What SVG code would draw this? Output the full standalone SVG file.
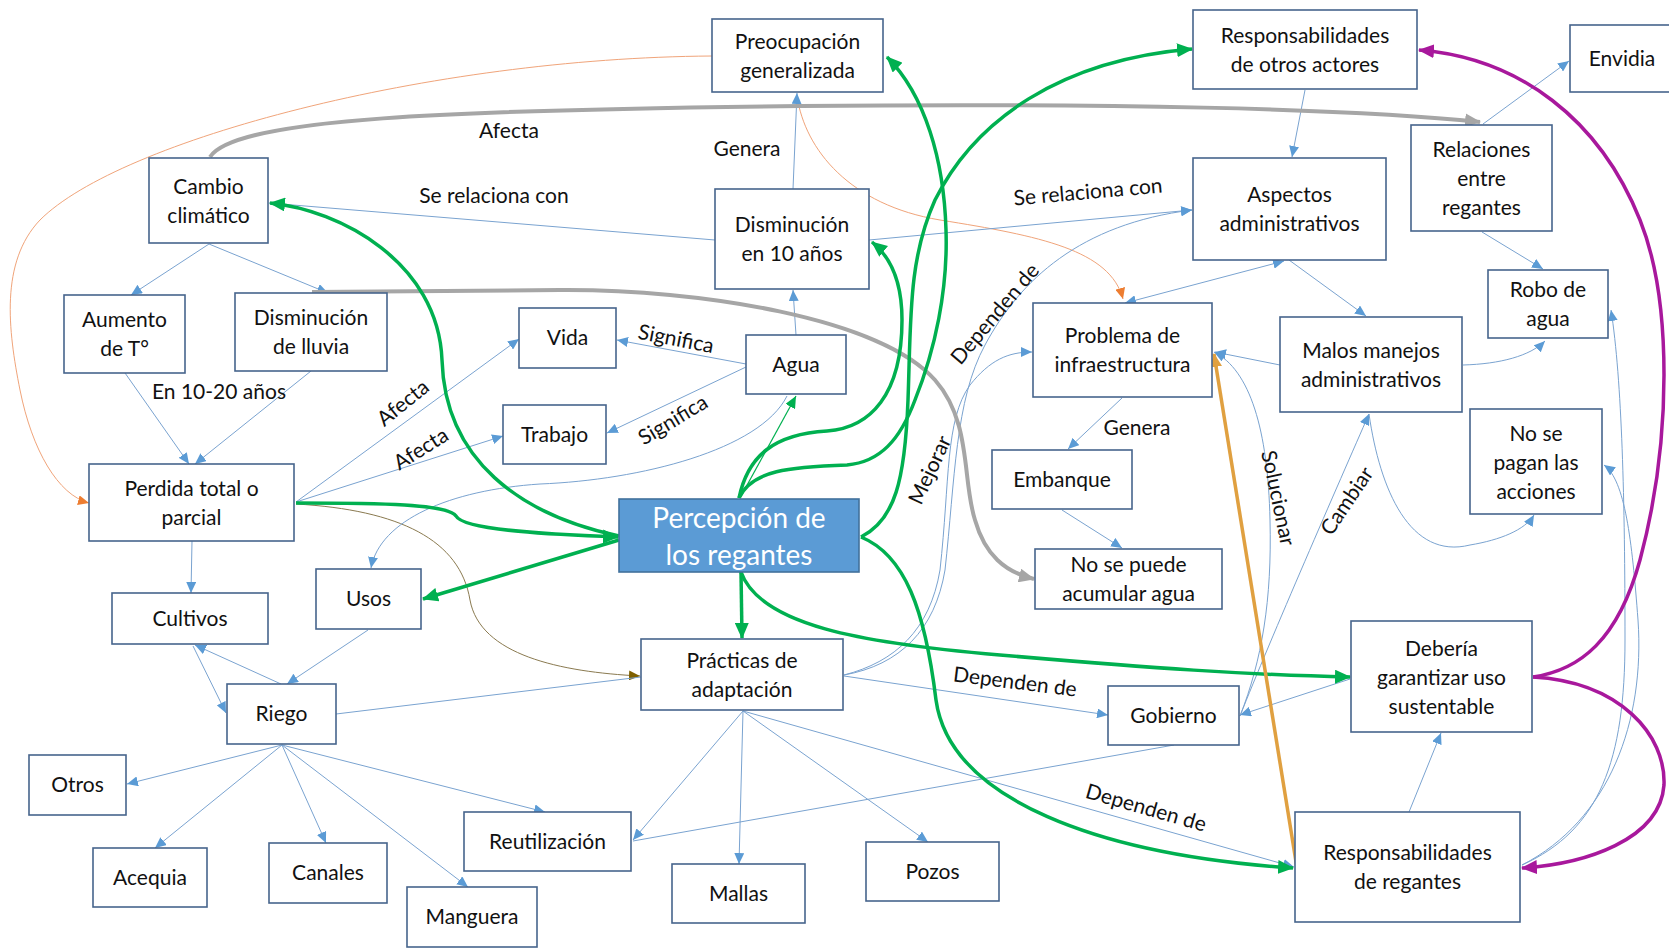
<svg xmlns="http://www.w3.org/2000/svg" width="1669" height="948" viewBox="0 0 1669 948">
  <style>
    .box { fill: #ffffff; stroke: #46648c; stroke-width: 1.6; }
    .main { fill: #5b9bd5; stroke: #41719c; stroke-width: 1.6; }
    .t { font-family: Lato, "Open Sans", sans-serif; font-size: 21px; fill: #111111; text-anchor: middle; }
    .tw { font-family: Lato, "Open Sans", sans-serif; font-size: 28px; fill: #ffffff; text-anchor: middle; }
    .lbl { font-family: Lato, "Open Sans", sans-serif; font-size: 21px; fill: #111111; text-anchor: middle; }
    .thin { fill: none; stroke: #7aa3d0; stroke-width: 1; }
    .thinA { fill: none; stroke: #7aa3d0; stroke-width: 1; marker-end: url(#aBlue); }
    .green { fill: none; stroke: #00b050; stroke-width: 3.5; marker-end: url(#aGreen); }
    .grey { fill: none; stroke: #a6a6a6; stroke-width: 4; marker-end: url(#aGrey); }
    .mag { fill: none; stroke: #a8189c; stroke-width: 3.5; marker-end: url(#aMag); }
  </style>
  <defs>
    <marker id="aBlue" markerUnits="userSpaceOnUse" markerWidth="11" markerHeight="10" refX="11" refY="5" orient="auto-start-reverse">
      <path d="M0,0 L11,5 L0,10 z" fill="#5b9bd5"/>
    </marker>
    <marker id="aGreen" markerUnits="userSpaceOnUse" markerWidth="16" markerHeight="14" refX="15" refY="7" orient="auto">
      <path d="M0,0 L16,7 L0,14 z" fill="#00b050"/>
    </marker>
    <marker id="aGreenThin" markerUnits="userSpaceOnUse" markerWidth="12" markerHeight="11" refX="12" refY="5.5" orient="auto">
      <path d="M0,0 L12,5.5 L0,11 z" fill="#00b050"/>
    </marker>
    <marker id="aGrey" markerUnits="userSpaceOnUse" markerWidth="16" markerHeight="14" refX="15" refY="7" orient="auto">
      <path d="M0,0 L16,7 L0,14 z" fill="#a6a6a6"/>
    </marker>
    <marker id="aMag" markerUnits="userSpaceOnUse" markerWidth="16" markerHeight="14" refX="15" refY="7" orient="auto">
      <path d="M0,0 L16,7 L0,14 z" fill="#a8189c"/>
    </marker>
    <marker id="aTan" markerUnits="userSpaceOnUse" markerWidth="14" markerHeight="12" refX="13" refY="6" orient="auto">
      <path d="M0,0 L14,6 L0,12 z" fill="#e0a040"/>
    </marker>
    <marker id="aOrange" markerUnits="userSpaceOnUse" markerWidth="11" markerHeight="10" refX="11" refY="5" orient="auto">
      <path d="M0,0 L11,5 L0,10 z" fill="#ed7d31"/>
    </marker>
    <marker id="aOlive" markerUnits="userSpaceOnUse" markerWidth="11" markerHeight="10" refX="11" refY="5" orient="auto">
      <path d="M0,0 L11,5 L0,10 z" fill="#7f6000"/>
    </marker>
  </defs>

  <rect width="1669" height="948" fill="#ffffff"/>

  <!-- connectors -->
  <g id="connectors">
    <!-- thin orange curves from Preocupación -->
    <path d="M712,56 C430,58 120,140 40,220 C0,262 8,330 20,390 C32,450 58,495 89,503" fill="none" stroke="#f0a47a" stroke-width="1" marker-end="url(#aOrange)"/>
    <path d="M797,96 C805,150 850,205 940,220 C1040,236 1110,250 1123,299" fill="none" stroke="#f0a47a" stroke-width="1" marker-end="url(#aOrange)"/>

    <!-- thin olive curve Perdida -> Prácticas -->
    <path d="M296,504 C400,510 460,540 470,600 C480,655 560,672 640,676" fill="none" stroke="#8a7a50" stroke-width="1" marker-end="url(#aOlive)"/>

    <!-- thin blue connectors -->
    <path class="thinA" d="M209,244 L131,295"/>
    <path class="thinA" d="M209,244 L328,293"/>
    <path class="thin" d="M269,203 L715,240"/>
    <path class="thinA" d="M793,189 L797,93"/>
    <path class="thinA" d="M869,240 L1192,210"/>
    <path class="thinA" d="M796,335 L793,290"/>
    <path class="thinA" d="M746,364 L617,340"/>
    <path class="thinA" d="M746,367 L607,433"/>
    <path class="thinA" d="M787,396 C760,450 640,480 540,484 C450,490 380,520 371,568"/>
    <path class="thinA" d="M125,373 L189,464"/>
    <path class="thinA" d="M311,371 L195,464"/>
    <path class="thinA" d="M296,502 L519,339"/>
    <path class="thinA" d="M296,502 L503,436"/>
    <path class="thinA" d="M192,541 L191,593"/>
    <path class="thinA" d="M368,630 L287,684"/>
    <path class="thinA" d="M281,684 L195,645"/>
    <path class="thinA" d="M193,646 L226,713"/>
    <path class="thin" d="M336,714 L641,677"/>
    <path class="thinA" d="M282,745 L127,784"/>
    <path class="thinA" d="M282,745 L155,848"/>
    <path class="thinA" d="M282,745 L326,843"/>
    <path class="thinA" d="M282,745 L468,887"/>
    <path class="thinA" d="M282,745 L545,812"/>
    <path class="thinA" d="M743,711 L633,840"/>
    <path class="thinA" d="M743,711 L739,864"/>
    <path class="thinA" d="M743,711 L928,842"/>
    <path class="thinA" d="M743,711 L1294,867"/>
    <path class="thinA" d="M844,676 L1108,715"/>
    <path class="thin" d="M1174,745 L633,841"/>
    <path class="thinA" d="M1350,679 L1240,715"/>
    <path class="thinA" d="M1409,812 L1441,733"/>
    <!-- Problema de infraestructura -> Embanque -> No se puede acumular agua -->
    <path class="thinA" d="M1122,398 L1068,449"/>
    <path class="thinA" d="M1062,510 L1122,548"/>
    <!-- Dependen de / Mejorar curves from Prácticas -->
    <path class="thinA" d="M844,675 C900,665 935,630 945,570 C955,480 955,400 985,345 C1020,280 1080,224 1192,210"/>
    <path class="thinA" d="M844,675 C895,662 930,630 940,570 C950,480 945,420 970,385 C990,360 1008,352 1032,352"/>
    <!-- Solucionar / Cambiar from Gobierno -->
    <path class="thinA" d="M1240,716 C1262,660 1272,600 1270,520 C1268,430 1250,370 1214,352"/>
    <path class="thinA" d="M1240,716 C1270,640 1340,480 1369,414"/>
    <path class="thinA" d="M1280,365 L1215,352"/>
    <path class="thinA" d="M1289,260 L1366,316"/>
    <path fill="none" stroke="#7aa3d0" stroke-width="1" marker-start="url(#aBlue)" marker-end="url(#aBlue)" d="M1284,261 L1125,303"/>
    <path class="thinA" d="M1305,90 L1292,157"/>
    <path class="thinA" d="M1483,124 L1569,61"/>
    <path class="thinA" d="M1482,232 L1543,269"/>
    <path class="thinA" d="M1463,365 C1500,364 1530,356 1545,341"/>
    <path class="thinA" d="M1369,414 C1380,490 1410,560 1470,545 C1500,540 1525,530 1534,515"/>
    <path class="thinA" d="M1522,865 C1600,830 1625,760 1625,640 C1625,500 1622,380 1611,310"/>
    <path class="thinA" d="M1522,865 C1610,820 1645,720 1638,620 C1632,540 1625,480 1604,465"/>

    <!-- thin green Percepción -> Agua -->
    <path d="M740,498 L796,396" fill="none" stroke="#00b050" stroke-width="1.2" marker-end="url(#aGreenThin)"/>

    <!-- thick grey -->
    <path class="grey" d="M210,157 C235,118 450,110 800,106 C1100,103 1350,108 1480,122"/>
    <path class="grey" d="M312,292 L560,290 C700,289 880,318 935,380 C972,422 962,480 975,520 C985,555 1005,572 1034,579"/>

    <!-- thick green from Percepción -->
    <path class="green" d="M619,536 C520,515 445,460 442,360 C438,262 340,210 270,203"/>
    <path class="green" d="M296,503 C380,503 448,504 456,516 C464,531 560,535 618,537"/>
    <path class="green" d="M619,540 L423,599"/>
    <path class="green" d="M741,572 L742,638"/>
    <path class="green" d="M739,498 C748,455 775,434 827,431 C870,428 902,395 902,320 C902,285 892,258 872,242"/>
    <path class="green" d="M739,498 C752,470 790,467 847,465 C880,462 900,440 915,400 C935,350 948,290 946,230 C944,160 925,95 887,57"/>
    <path class="green" d="M861,537 C895,520 905,480 908,400 C911,320 908,260 935,200 C975,120 1060,60 1192,49"/>
    <path class="green" d="M861,537 C905,555 925,610 936,700 C950,800 1100,855 1293,868"/>
    <path class="green" d="M741,572 C760,625 860,643 1000,655 C1150,668 1250,675 1350,677"/>

    <!-- thick magenta from Debería -->
    <path class="mag" d="M1533,677 C1580,670 1618,640 1640,560 C1672,440 1672,300 1640,220 C1600,120 1520,58 1419,50"/>
    <path class="mag" d="M1533,677 C1620,682 1666,735 1664,785 C1660,840 1585,864 1522,868"/>

    <!-- thick tan Responsabilidades de regantes -> Problema de infraestructura -->
    <path d="M1297,868 L1214,354" fill="none" stroke="#e0a040" stroke-width="3.5" marker-end="url(#aTan)"/>
  </g>

  <!-- connector labels -->
  <g id="labels">
    <text class="lbl" x="509" y="138">Afecta</text>
    <text class="lbl" x="494" y="203">Se relaciona con</text>
    <text class="lbl" x="747" y="156">Genera</text>
    <text class="lbl" transform="translate(1088,192) rotate(-5)" y="7">Se relaciona con</text>
    <text class="lbl" transform="translate(995,314) rotate(-50)" y="7">Dependen de</text>
    <text class="lbl" transform="translate(930,470) rotate(-65)" y="7">Mejorar</text>
    <text class="lbl" x="1137" y="435">Genera</text>
    <text class="lbl" transform="translate(1278,498) rotate(78)" y="7">Solucionar</text>
    <text class="lbl" transform="translate(1347,501) rotate(-56)" y="7">Cambiar</text>
    <text class="lbl" x="219" y="399">En 10-20 años</text>
    <text class="lbl" transform="translate(403,403) rotate(-39)" y="7">Afecta</text>
    <text class="lbl" transform="translate(421,449) rotate(-32)" y="7">Afecta</text>
    <text class="lbl" transform="translate(676,339) rotate(11)" y="7">Significa</text>
    <text class="lbl" transform="translate(673,420) rotate(-31)" y="7">Significa</text>
    <text class="lbl" transform="translate(1015,682) rotate(7)" y="7">Dependen de</text>
    <text class="lbl" transform="translate(1146,808) rotate(16)" y="7">Dependen de</text>
  </g>

  <!-- nodes -->
  <g id="n-preocupacion"><rect class="box" x="712" y="19" width="171" height="73"/><text class="t" x="797.5" y="48.5">Preocupación</text><text class="t" x="797.5" y="77.5">generalizada</text></g>
  <g id="n-resp-otros"><rect class="box" x="1193" y="10" width="224" height="79"/><text class="t" x="1305" y="42.5">Responsabilidades</text><text class="t" x="1305" y="71.5">de otros actores</text></g>
  <g id="n-envidia"><rect class="box" x="1570" y="25" width="120" height="67"/><text class="t" x="1622" y="65.5">Envidia</text></g>
  <g id="n-relaciones"><rect class="box" x="1411" y="125" width="141" height="106"/><text class="t" x="1481.5" y="157">Relaciones</text><text class="t" x="1481.5" y="186">entre</text><text class="t" x="1481.5" y="215">regantes</text></g>
  <g id="n-cambio"><rect class="box" x="149" y="158" width="119" height="85"/><text class="t" x="208.5" y="193.5">Cambio</text><text class="t" x="208.5" y="222.5">climático</text></g>
  <g id="n-dism10"><rect class="box" x="715" y="189" width="154" height="100"/><text class="t" x="792" y="232">Disminución</text><text class="t" x="792" y="261">en 10 años</text></g>
  <g id="n-aspectos"><rect class="box" x="1193" y="158" width="193" height="102"/><text class="t" x="1289.5" y="202">Aspectos</text><text class="t" x="1289.5" y="231">administrativos</text></g>
  <g id="n-aumento"><rect class="box" x="64" y="295" width="121" height="78"/><text class="t" x="124.5" y="327">Aumento</text><text class="t" x="124.5" y="356">de T°</text></g>
  <g id="n-dismlluvia"><rect class="box" x="235" y="293" width="152" height="78"/><text class="t" x="311" y="325">Disminución</text><text class="t" x="311" y="354">de lluvia</text></g>
  <g id="n-robo"><rect class="box" x="1488" y="270" width="120" height="68"/><text class="t" x="1548" y="297">Robo de</text><text class="t" x="1548" y="326">agua</text></g>
  <g id="n-perdida"><rect class="box" x="89" y="464" width="205" height="77"/><text class="t" x="191.5" y="495.5">Perdida total o</text><text class="t" x="191.5" y="524.5">parcial</text></g>
  <g id="n-cultivos"><rect class="box" x="112" y="593" width="156" height="51"/><text class="t" x="190" y="626">Cultivos</text></g>
  <g id="n-usos"><rect class="box" x="316" y="569" width="105" height="60"/><text class="t" x="368.5" y="606">Usos</text></g>
  <g id="n-vida"><rect class="box" x="519" y="308" width="97" height="60"/><text class="t" x="567.5" y="345">Vida</text></g>
  <g id="n-trabajo"><rect class="box" x="503" y="405" width="103" height="59"/><text class="t" x="554.5" y="441.5">Trabajo</text></g>
  <g id="n-agua"><rect class="box" x="746" y="335" width="100" height="59"/><text class="t" x="796" y="371.5">Agua</text></g>
  <g id="n-percepcion"><rect class="main" x="619" y="499" width="240" height="73"/><text class="tw" x="739" y="527.5">Percepción de</text><text class="tw" x="739" y="564.5">los regantes</text></g>
  <g id="n-infra"><rect class="box" x="1033" y="303" width="179" height="94"/><text class="t" x="1122.5" y="343">Problema de</text><text class="t" x="1122.5" y="372">infraestructura</text></g>
  <g id="n-embanque"><rect class="box" x="992" y="450" width="140" height="59"/><text class="t" x="1062" y="486.5">Embanque</text></g>
  <g id="n-acumular"><rect class="box" x="1035" y="549" width="187" height="60"/><text class="t" x="1128.5" y="572">No se puede</text><text class="t" x="1128.5" y="601">acumular agua</text></g>
  <g id="n-malos"><rect class="box" x="1280" y="317" width="182" height="95"/><text class="t" x="1371" y="357.5">Malos manejos</text><text class="t" x="1371" y="386.5">administrativos</text></g>
  <g id="n-nopagan"><rect class="box" x="1470" y="409" width="132" height="105"/><text class="t" x="1536" y="440.5">No se</text><text class="t" x="1536" y="469.5">pagan las</text><text class="t" x="1536" y="498.5">acciones</text></g>
  <g id="n-riego"><rect class="box" x="227" y="684" width="109" height="60"/><text class="t" x="281.5" y="721">Riego</text></g>
  <g id="n-otros"><rect class="box" x="29" y="755" width="97" height="60"/><text class="t" x="77.5" y="792">Otros</text></g>
  <g id="n-acequia"><rect class="box" x="93" y="848" width="114" height="59"/><text class="t" x="150" y="884.5">Acequia</text></g>
  <g id="n-canales"><rect class="box" x="269" y="843" width="118" height="60"/><text class="t" x="328" y="880">Canales</text></g>
  <g id="n-manguera"><rect class="box" x="407" y="887" width="130" height="60"/><text class="t" x="472" y="924">Manguera</text></g>
  <g id="n-reutilizacion"><rect class="box" x="464" y="812" width="167" height="59"/><text class="t" x="547.5" y="848.5">Reutilización</text></g>
  <g id="n-practicas"><rect class="box" x="641" y="639" width="202" height="71"/><text class="t" x="742" y="667.5">Prácticas de</text><text class="t" x="742" y="696.5">adaptación</text></g>
  <g id="n-mallas"><rect class="box" x="672" y="864" width="133" height="59"/><text class="t" x="738.5" y="900.5">Mallas</text></g>
  <g id="n-pozos"><rect class="box" x="866" y="842" width="133" height="59"/><text class="t" x="932.5" y="878.5">Pozos</text></g>
  <g id="n-gobierno"><rect class="box" x="1108" y="686" width="131" height="59"/><text class="t" x="1173.5" y="722.5">Gobierno</text></g>
  <g id="n-deberia"><rect class="box" x="1351" y="621" width="181" height="111"/><text class="t" x="1441.5" y="655.5">Debería</text><text class="t" x="1441.5" y="684.5">garantizar uso</text><text class="t" x="1441.5" y="713.5">sustentable</text></g>
  <g id="n-resp-regantes"><rect class="box" x="1295" y="812" width="225" height="110"/><text class="t" x="1407.5" y="860">Responsabilidades</text><text class="t" x="1407.5" y="889">de regantes</text></g>
</svg>
